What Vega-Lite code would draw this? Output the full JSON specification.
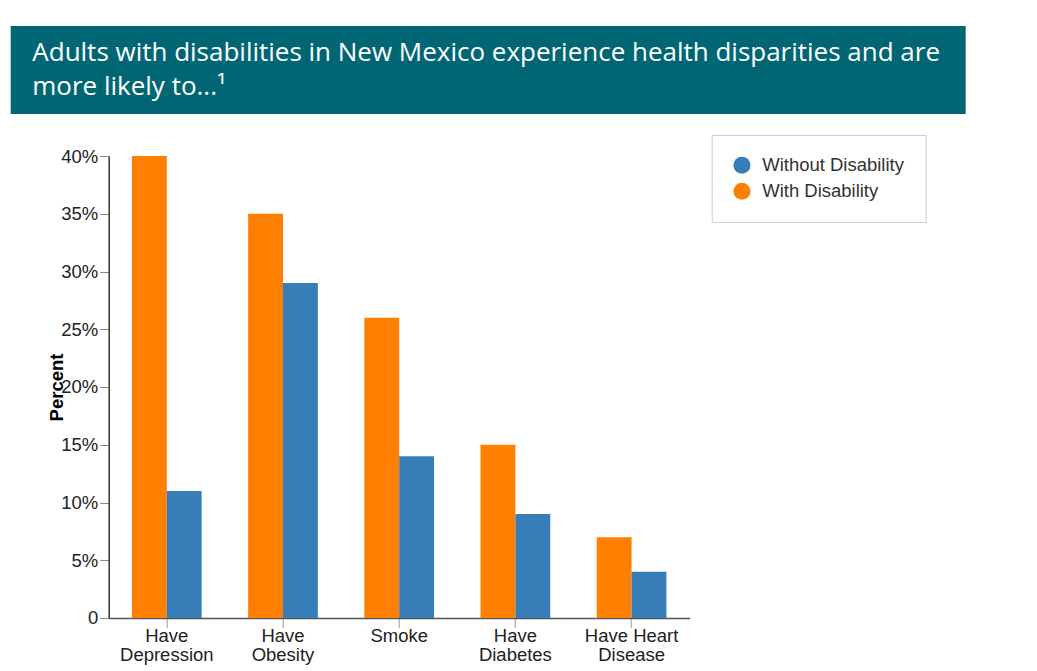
{
  "$schema": "https://vega.github.io/schema/vega-lite/v6.json",
  "background": "white",
  "padding": {"left": 10.7, "top": 26, "right": 5, "bottom": 2},
  "spacing": 20,
  "config": {"view": {"stroke": null}},
  "resolve": {"scale": {"color": "independent"}, "legend": {"color": "independent"}},
  "vconcat": [
    {
      "width": 955,
      "height": 88,
      "view": {"fill": "#006674", "stroke": null},
      "data": {"values": [{"title": "Adults with disabilities in New Mexico experience health disparities and are\nmore likely to...¹"}]},
      "mark": {"type": "text", "align": "left", "baseline": "alphabetic", "lineBreak": "\n", "lineHeight": 34.3, "font": "Open Sans", "fontSize": 26, "fill": "white", "dx": 21.6, "dy": 35},
      "encoding": {
        "x": {"datum": 0, "type": "quantitative", "scale": {"domain": [0, 1]}, "axis": null},
        "y": {"datum": 1, "type": "quantitative", "scale": {"domain": [0, 1]}, "axis": null},
        "text": {"field": "title", "type": "nominal"}
      }
    },
    {
      "spacing": 0,
      "resolve": {"scale": {"color": "independent"}, "legend": {"color": "independent"}},
      "hconcat": [
        {
          "width": 37,
          "height": 1,
          "data": {"values": []},
          "mark": {"type": "point", "opacity": 0},
          "encoding": {}
        },
        {
          "width": 581,
          "height": 462,
          "data": {"values": [
            {"measure": "Have Depression", "group": "With Disability", "percent": 40},
            {"measure": "Have Depression", "group": "Without Disability", "percent": 11},
            {"measure": "Have Obesity", "group": "With Disability", "percent": 35},
            {"measure": "Have Obesity", "group": "Without Disability", "percent": 29},
            {"measure": "Smoke", "group": "With Disability", "percent": 26},
            {"measure": "Smoke", "group": "Without Disability", "percent": 14},
            {"measure": "Have Diabetes", "group": "With Disability", "percent": 15},
            {"measure": "Have Diabetes", "group": "Without Disability", "percent": 9},
            {"measure": "Have Heart Disease", "group": "With Disability", "percent": 7},
            {"measure": "Have Heart Disease", "group": "Without Disability", "percent": 4}
          ]},
          "mark": {"type": "bar"},
          "encoding": {
            "x": {
              "field": "measure",
              "type": "nominal",
              "sort": ["Have Depression", "Have Obesity", "Smoke", "Have Diabetes", "Have Heart Disease"],
              "scale": {"paddingInner": 0.4, "paddingOuter": 0.2},
              "axis": {
                "title": null,
                "labelAngle": 0,
                "labelExpr": "datum.value == 'Have Heart Disease' ? ['Have Heart', 'Disease'] : split(datum.value, ' ')",
                "labelFont": "Liberation Sans",
                "labelFontSize": 18.5,
                "labelLineHeight": 19.5,
                "labelColor": "#222",
                "labelPadding": -1,
                "tickSize": 9.5,
                "tickColor": "#999",
                "domainColor": "#555",
                "domainWidth": 1.5
              }
            },
            "xOffset": {"field": "group", "type": "nominal", "sort": ["With Disability", "Without Disability"]},
            "y": {
              "field": "percent",
              "type": "quantitative",
              "scale": {"domain": [0, 40]},
              "axis": {
                "values": [0, 5, 10, 15, 20, 25, 30, 35, 40],
                "labelExpr": "datum.value == 0 ? '0' : datum.value + '%'",
                "grid": false,
                "title": "Percent",
                "titleX": -42,
                "titleY": 231,
                "titleAngle": -90,
                "titleAlign": "center",
                "titleBaseline": "bottom",
                "titleFont": "Liberation Sans",
                "titleFontSize": 18.5,
                "titleFontWeight": "bold",
                "titleColor": "#000",
                "labelFont": "Liberation Sans",
                "labelFontSize": 18.5,
                "labelColor": "#222",
                "labelPadding": 2,
                "tickSize": 9,
                "tickColor": "#888",
                "domainColor": "#333",
                "domainWidth": 1.5
              }
            },
            "color": {
              "field": "group",
              "type": "nominal",
              "scale": {"domain": ["Without Disability", "With Disability"], "range": ["#377eb8", "#ff7f00"]},
              "legend": {
                "orient": "none",
                "legendX": 603,
                "legendY": -21,
                "title": null,
                "symbolType": "circle",
                "symbolSize": 290,
                "symbolStrokeWidth": 0,
                "symbolOpacity": 1,
                "labelFont": "Liberation Sans",
                "labelFontSize": 18.5,
                "labelColor": "#333",
                "labelOffset": 11,
                "labelLimit": 300,
                "padding": 21,
                "rowPadding": 7,
                "strokeColor": "#ccc",
                "fillColor": "white"
              }
            }
          }
        }
      ]
    }
  ]
}
